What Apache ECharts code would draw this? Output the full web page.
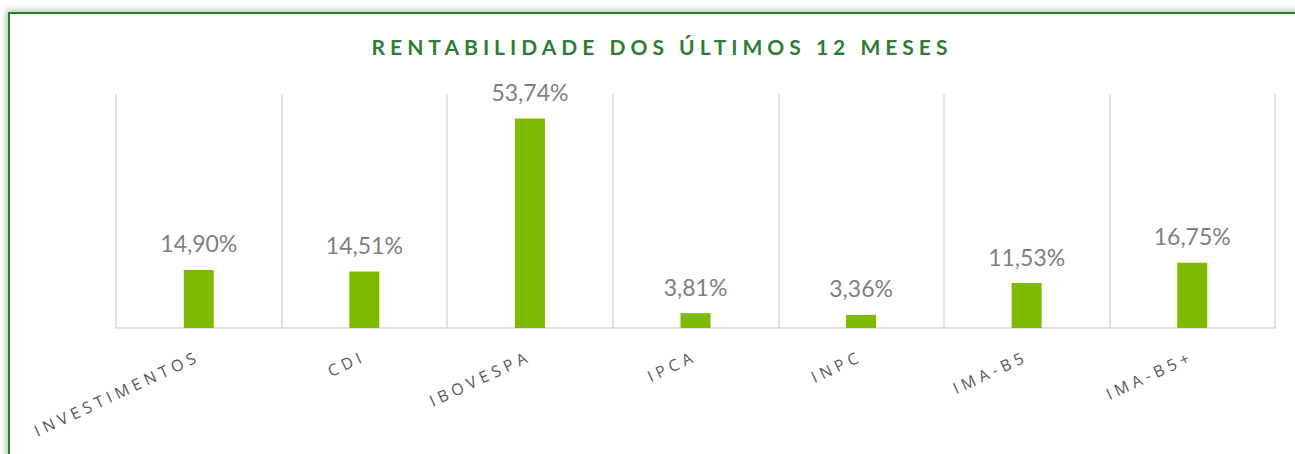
<!DOCTYPE html>
<html>
<head>
<meta charset="utf-8">
<script src="https://cdn.jsdelivr.net/npm/echarts@6/dist/echarts.min.js"></script>
<style>
  html, body { margin: 0; padding: 0; background: #fff; }
  #frame {
    position: absolute; left: 8px; top: 12px; width: 1300px; height: 460px;
    border: 2px solid #2e7d32; background: #fff;
    box-shadow: 0 0 6px 2px rgba(76, 140, 76, 0.45);
  }
  #chart { position: absolute; left: 0; top: 0; width: 1295px; height: 454px; }
  #chart text[fill="#595959"] { letter-spacing: 4.5px; }
  #chart text[fill="#2e7d32"] { letter-spacing: 5px; }
</style>
</head>
<body>
<div id="frame"></div>
<div id="chart"></div>
<script>
const categories = ['INVESTIMENTOS', 'CDI', 'IBOVESPA', 'IPCA', 'INPC', 'IMA-B5', 'IMA-B5+'];
const values = [14.90, 14.51, 53.74, 3.81, 3.36, 11.53, 16.75];

const chart = echarts.init(document.getElementById('chart'), null, { renderer: 'svg' });
const option = {
    backgroundColor: 'transparent',
    animation: false,
    title: {
        text: 'RENTABILIDADE DOS ÚLTIMOS 12 MESES',
        left: 657,
        textAlign: 'center',
        top: 31,
        textStyle: {
            color: '#2e7d32',
            fontFamily: 'Lato',
            fontWeight: 'bold',
            fontSize: 21
        }
    },
    grid: {
        left: 116,
        right: 20,
        top: 94,
        bottom: 126
    },
    xAxis: {
        type: 'category',
        data: categories,
        axisLine: { lineStyle: { color: '#d9d9d9', width: 1.5 } },
        axisTick: { show: false },
        splitLine: { show: true, lineStyle: { color: '#d9d9d9', width: 1.5 } },
        axisLabel: {
            rotate: 25,
            margin: 27,
            interval: 0,
            color: '#595959',
            fontFamily: 'Open Sans',
            fontSize: 16
        }
    },
    yAxis: {
        type: 'value',
        min: 0,
        max: 60,
        show: false,
        splitLine: { show: false }
    },
    series: [
        {
            type: 'bar',
            data: values,
            barWidth: 30,
            itemStyle: { color: '#7fba00' },
            label: {
                show: true,
                position: 'top',
                distance: 15,
                color: '#7f7f7f',
                fontFamily: 'Lato',
                fontSize: 23,
                formatter: function (p) {
                    return p.value.toFixed(2).replace('.', ',') + '%';
                }
            }
        }
    ]
};
chart.setOption(option);
</script>
</body>
</html>
